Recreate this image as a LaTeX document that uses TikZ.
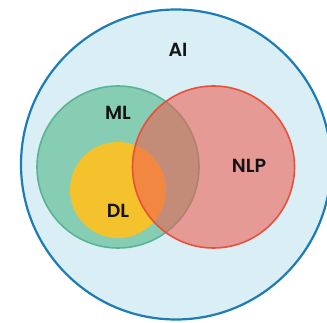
\documentclass[tikz,border=0pt]{standalone}
\usepackage{fontspec}
\newfontfamily\lab{Poppins SemiBold}
\definecolor{aifill}{RGB}{218,238,245}
\definecolor{ailine}{RGB}{28,124,182}
\definecolor{mlfill}{RGB}{135,205,180}
\definecolor{mlline}{RGB}{88,180,148}
\definecolor{dlfill}{RGB}{243,194,44}
\definecolor{nlpfill}{RGB}{240,94,80}
\definecolor{nlpline}{RGB}{232,80,58}
\definecolor{txt}{RGB}{20,20,20}
\tikzset{
  set/.style={circle, inner sep=0pt, minimum size=#1},
  lbl/.style={font=\lab\fontsize{19}{19}\selectfont, text=txt},
}
\begin{document}
\begin{tikzpicture}[x=1pt,y=-1pt]
\useasboundingbox (0,0) rectangle (327,323);
\clip (0,0) rectangle (327,323);
\node[set=310pt, fill=aifill, draw=ailine, line width=2.2pt] (ai) at (176,164.5) {};
\node[set=162pt, fill=mlfill, draw=mlline, line width=1.6pt] (ml) at (118,167) {};
\node[set=96pt, fill=dlfill] (dl) at (118,190) {};
\node[set=162pt, fill=nlpfill, fill opacity=0.58, draw=nlpline, line width=1.6pt] (nlp) at (213.5,167) {};
\node[lbl] (ailbl) at (178,50) {AI};
\node[lbl] (mllbl) at (118,113) {ML};
\node[lbl] (dllbl) at (118,211) {DL};
\node[lbl] (nlplbl) at (249,166) {NLP};
\end{tikzpicture}
\end{document}
